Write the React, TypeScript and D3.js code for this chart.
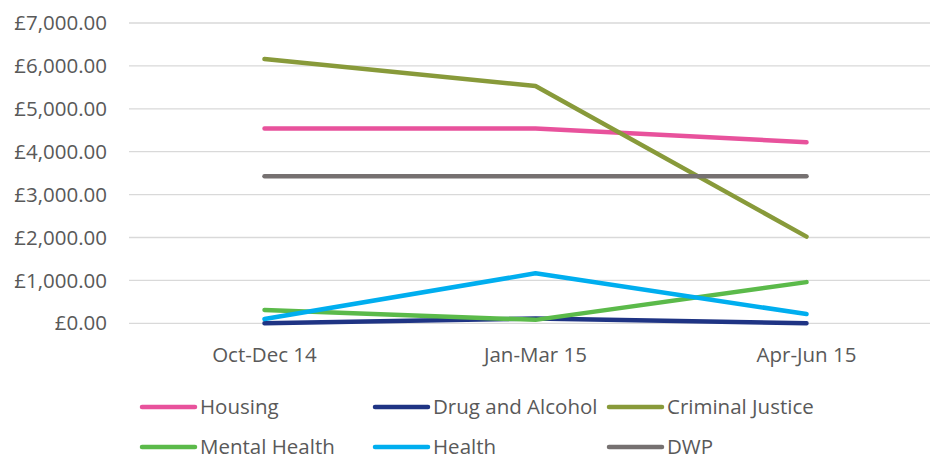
import React from "react";
import * as d3 from "d3";

const categories = ["Oct-Dec 14", "Jan-Mar 15", "Apr-Jun 15"];
const seriesNames = ["Housing", "Drug and Alcohol", "Criminal Justice", "Mental Health", "Health", "DWP"];
const housing = [4540, 4540, 4220];
const drugAlcohol = [0, 110, 0];
const criminalJustice = [6160, 5530, 2020];
const mentalHealth = [310, 80, 960];
const health = [100, 1165, 215];
const dwp = [3430, 3430, 3430];
const seriesColors = ["#E8529C", "#1F3484", "#889A3A", "#5BBA4A", "#00AEEF", "#767171"];
const yTicks = [0, 1000, 2000, 3000, 4000, 5000, 6000, 7000];

const seriesValues = [housing, drugAlcohol, criminalJustice, mentalHealth, health, dwp];

export default function App() {
  const W = 930, H = 461;
  const plotLeft = 129, plotTop = 23, plotBottom = 323.3;
  const bandW = 271;
  const x = d3.scaleBand<string>().domain(categories).range([plotLeft, plotLeft + bandW * 3]);
  const y = d3.scaleLinear().domain([0, 7000]).range([plotBottom, plotTop]);
  const fmt = (v: number) => "£" + d3.format(",.2f")(v);
  const font = "'Open Sans', sans-serif";
  const textColor = "#595959";
  const fs = 20.5;
  const line = d3.line<number>()
    .x((_, i) => (x(categories[i]) as number) + x.bandwidth() / 2)
    .y((v) => y(v));

  const legendCols = [140, 373, 607];
  const legendRows = [407, 447];
  const swatchW = 57;

  return (
    <svg width={W} height={H} style={{ display: "block", position: "absolute", left: 0, top: 0 }}>
      <rect width={W} height={H} fill="#fff" />
      {yTicks.map((t) => (
        <g key={t}>
          <line x1={plotLeft} x2={plotLeft + bandW * 3} y1={y(t)} y2={y(t)} stroke="#D9D9D9" strokeWidth={1.3} />
          <text x={107} y={y(t)} dy="0.35em" textAnchor="end" fontFamily={font} fontSize={fs} fill={textColor}>
            {fmt(t)}
          </text>
        </g>
      ))}
      {categories.map((c) => (
        <text key={c} x={(x(c) as number) + x.bandwidth() / 2} y={355} dy="0.35em" textAnchor="middle"
          fontFamily={font} fontSize={fs} fill={textColor}>
          {c}
        </text>
      ))}
      {seriesValues.map((vals, i) => (
        <path key={seriesNames[i]} d={line(vals) as string} fill="none" stroke={seriesColors[i]}
          strokeWidth={4.5} strokeLinecap="round" strokeLinejoin="round" />
      ))}
      {seriesNames.map((name, i) => {
        const lx = legendCols[i % 3];
        const ly = legendRows[Math.floor(i / 3)];
        return (
          <g key={name}>
            <line x1={lx + 2} x2={lx + swatchW - 2} y1={ly} y2={ly} stroke={seriesColors[i]} strokeWidth={4.5} strokeLinecap="round" />
            <text x={lx + swatchW + 3} y={ly} dy="0.35em" fontFamily={font} fontSize={fs} fill={textColor}>
              {name}
            </text>
          </g>
        );
      })}
    </svg>
  );
}
